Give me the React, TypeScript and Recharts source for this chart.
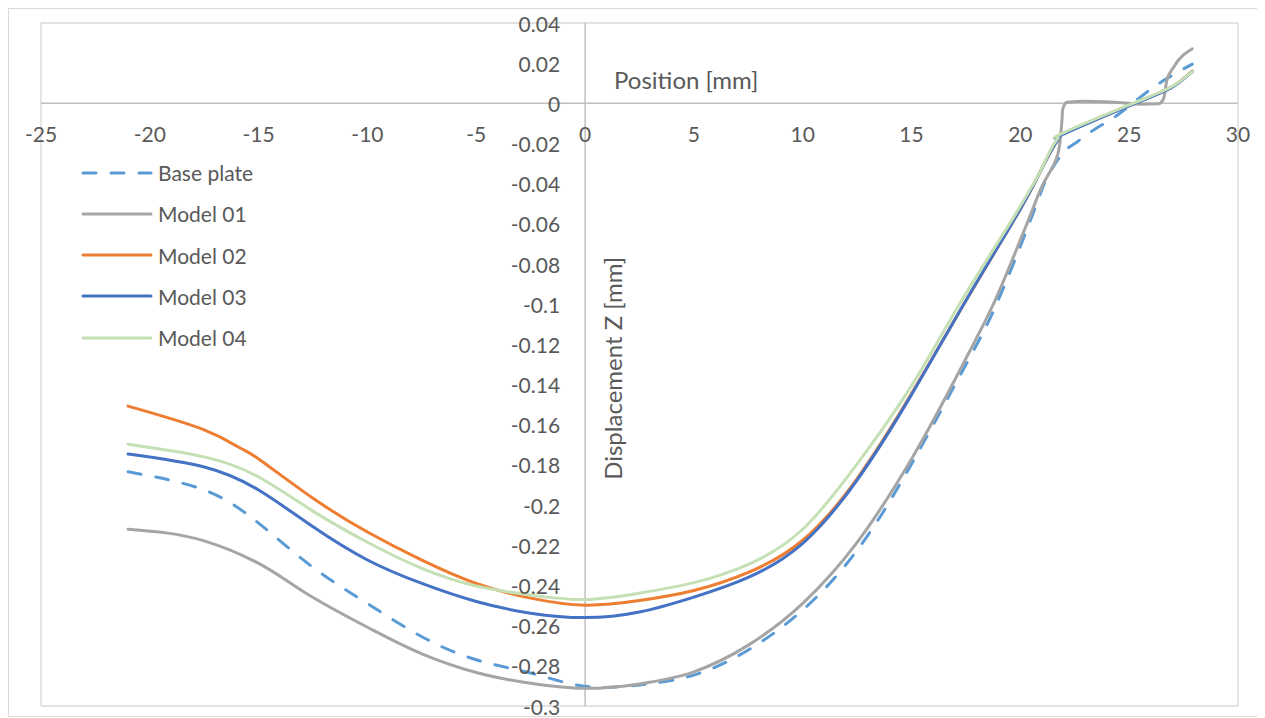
import React from 'react';
import {
  LineChart,
  Line,
  XAxis,
  YAxis,
  CartesianGrid,
  ReferenceLine,
  ReferenceDot,
  Legend,
} from 'recharts';

// ---------- data ----------
const xTicks = [-25, -20, -15, -10, -5, 0, 5, 10, 15, 20, 25, 30];
const yTicks = [0.04, 0.02, 0, -0.02, -0.04, -0.06, -0.08, -0.1, -0.12, -0.14, -0.16, -0.18, -0.2, -0.22, -0.24, -0.26, -0.28, -0.3];

const basePlateX = [-21, -17.5, -15, -12.5, -10, -7.5, -5, -2.5, 0, 2.5, 5, 7.5, 10, 12.5, 15, 17.5, 18.9, 20.4, 21.1, 21.6, 22.06, 22.5, 23.4, 24.4, 25.5, 26.6, 27.9];
const basePlateY = [-0.1834, -0.1925, -0.209, -0.231, -0.249, -0.2655, -0.277, -0.2836, -0.2902, -0.2895, -0.2846, -0.2721, -0.2522, -0.2225, -0.1795, -0.13, -0.1, -0.06, -0.04, -0.03, -0.0234, -0.02, -0.013, -0.0063, 0.003, 0.0115, 0.0195];

const model01X = [-21, -17.5, -15, -12.5, -10, -7.5, -5, -2.5, 0, 2.5, 5, 7.5, 10, 12.5, 15, 17.5, 18.76, 20.3, 21.05, 21.4, 21.56, 21.79, 21.9, 21.95, 22.15, 23, 25, 25.5, 26.35, 26.58, 26.73, 27.04, 27.9];
const model01Y = [-0.212, -0.2178, -0.229, -0.246, -0.2608, -0.274, -0.2833, -0.2887, -0.2912, -0.289, -0.283, -0.2697, -0.2489, -0.2185, -0.177, -0.127, -0.1, -0.06, -0.04, -0.0333, -0.03, -0.0217, -0.0101, -0.0027, 0.0005, 0.001, 0.0, -0.0004, -0.0002, 0.0023, 0.0114, 0.018, 0.0272];

const model02X = [-21, -17.5, -15.85, -15, -12.5, -10, -7.5, -5, -2.5, 0, 2.5, 5, 7.5, 10, 12.5, 15, 17.4, 19.6, 20.63, 21.5, 21.75, 21.95, 25, 26.9, 27.9];
const model02Y = [-0.1507, -0.1625, -0.1716, -0.177, -0.1966, -0.2134, -0.2274, -0.239, -0.2463, -0.2498, -0.2475, -0.2425, -0.2335, -0.2175, -0.1868, -0.1445, -0.1, -0.06, -0.04, -0.022, -0.017, -0.0152, -0.001, 0.0078, 0.016];

const model03X = [-21, -17.5, -15, -12.5, -10, -7.5, -5, -2.5, 0, 2.5, 5, 7.5, 10, 12.5, 15, 17.4, 19.6, 20.63, 21.5, 21.75, 21.95, 25, 26.9, 27.9];
const model03Y = [-0.1746, -0.181, -0.1925, -0.2108, -0.2273, -0.239, -0.248, -0.2538, -0.256, -0.2532, -0.2458, -0.236, -0.219, -0.1875, -0.145, -0.1, -0.06, -0.04, -0.022, -0.017, -0.0154, -0.0012, 0.0076, 0.0158];

const model04X = [-21, -17.5, -15, -12.5, -10, -7.5, -5, -2.5, 0, 2.5, 5, 7.5, 10, 12.5, 15, 17.2, 19.5, 20.6, 21.0, 21.5, 21.72, 21.95, 25, 26.9, 27.9];
const model04Y = [-0.1697, -0.176, -0.186, -0.203, -0.2185, -0.2315, -0.2403, -0.2448, -0.247, -0.2438, -0.2386, -0.2295, -0.212, -0.1795, -0.1405, -0.1, -0.06, -0.04, -0.032, -0.021, -0.0168, -0.0148, -0.0008, 0.008, 0.0158];

const seriesNames = ['Base plate', 'Model 01', 'Model 02', 'Model 03', 'Model 04'];

// ---------- styling ----------
const FONT = 'Lato, "Open Sans", "DejaVu Sans", sans-serif';
const TEXT = '#595959';
const colors = ['#5B9BD5', '#A5A5A5', '#ED7D31', '#4472C4', '#C5E0B4'];
const dashes = ['13 15', undefined, undefined, undefined, undefined];
const curves: ('natural' | 'monotone')[] = ['natural', 'monotone', 'natural', 'natural', 'natural'];

const toPoints = (xs: number[], ys: number[]) => xs.map((x, i) => ({ x, y: ys[i] }));

const series = [
  toPoints(basePlateX, basePlateY),
  toPoints(model01X, model01Y),
  toPoints(model02X, model02Y),
  toPoints(model03X, model03Y),
  toPoints(model04X, model04Y),
].map((data, i) => ({ name: seriesNames[i], color: colors[i], dash: dashes[i], curve: curves[i], data }));

const fmtY = (v: number) => String(Number(v.toFixed(2)));

const LegendBox = () => (
  <div style={{ fontFamily: FONT, fontSize: 21, color: TEXT }}>
    {series.map((s) => (
      <div key={s.name} style={{ display: 'flex', alignItems: 'center', height: 41.25 }}>
        <svg width={72} height={8} style={{ display: 'block' }}>
          <line
            x1={2}
            y1={4}
            x2={70}
            y2={4}
            stroke={s.color}
            strokeWidth={3}
            strokeDasharray={s.dash}
            strokeLinecap="round"
          />
        </svg>
        <span style={{ marginLeft: 5, lineHeight: 1 }}>{s.name}</span>
      </div>
    ))}
  </div>
);

export default function App() {
  return (
    <div
      style={{
        width: 1253,
        height: 707,
        border: '1px solid #d9d9d9',
        background: '#fff',
        position: 'relative',
      }}
    >
      <LineChart
        width={1253}
        height={707}
        margin={{ top: 14, right: 24, bottom: 10, left: 32 }}
        style={{ overflow: 'visible' }}
      >
        <CartesianGrid stroke="#d9d9d9" strokeWidth={1.3} />
        <XAxis
          type="number"
          dataKey="x"
          domain={[-25, 30]}
          ticks={xTicks}
          allowDataOverflow
          height={0}
          axisLine={false}
          tickLine={false}
          tick={false}
        />
        <YAxis
          type="number"
          dataKey="y"
          domain={[-0.3, 0.04]}
          ticks={yTicks}
          allowDataOverflow
          width={0}
          axisLine={false}
          tickLine={false}
          tick={false}
        />
        <ReferenceLine x={0} stroke="#bfbfbf" strokeWidth={1.5} />
        <ReferenceLine y={0} stroke="#bfbfbf" strokeWidth={1.5} />
        {xTicks.map((t) => (
          <ReferenceDot
            key={'xt' + t}
            x={t}
            y={0}
            r={0}
            fill="none"
            stroke="none"
            label={(p: any) => (
              <text
                x={p.viewBox.x}
                y={p.viewBox.y + 30}
                textAnchor="middle"
                dominantBaseline="central"
                fontFamily={FONT}
                fontSize={21}
                fill={TEXT}
              >
                {t}
              </text>
            )}
          />
        ))}
        {yTicks.map((t) => (
          <ReferenceDot
            key={'yt' + t}
            x={0}
            y={t}
            r={0}
            fill="none"
            stroke="none"
            label={(p: any) => (
              <text
                x={p.viewBox.x - 25}
                y={p.viewBox.y}
                textAnchor="end"
                dominantBaseline="central"
                fontFamily={FONT}
                fontSize={21}
                fill={TEXT}
              >
                {fmtY(t)}
              </text>
            )}
          />
        ))}
        <ReferenceDot
          x={0}
          y={0}
          r={0}
          fill="none"
          stroke="none"
          label={(p: any) => (
            <g>
              <text
                x={p.viewBox.x + 29}
                y={p.viewBox.y - 24}
                textAnchor="start"
                dominantBaseline="central"
                fontFamily={FONT}
                fontSize={24}
                fill={TEXT}
              >
                Position [mm]
              </text>
              <text
                x={p.viewBox.x + 27}
                y={p.viewBox.y + 265}
                textAnchor="middle"
                dominantBaseline="central"
                fontFamily={FONT}
                fontSize={24}
                fill={TEXT}
                transform={`rotate(-90 ${p.viewBox.x + 27} ${p.viewBox.y + 265})`}
              >
                Displacement Z [mm]
              </text>
            </g>
          )}
        />
        {series.map((s) => (
          <Line
            key={s.name}
            name={s.name}
            data={s.data}
            dataKey="y"
            type={s.curve}
            stroke={s.color}
            strokeWidth={3}
            strokeDasharray={s.dash}
            strokeLinecap="round"
            dot={false}
            activeDot={false}
            isAnimationActive={false}
          />
        ))}
        <Legend
          layout="vertical"
          verticalAlign="middle"
          align="center"
          wrapperStyle={{ left: 72, top: 143, width: 'auto' }}
          content={() => <LegendBox />}
        />
      </LineChart>
    </div>
  );
}
